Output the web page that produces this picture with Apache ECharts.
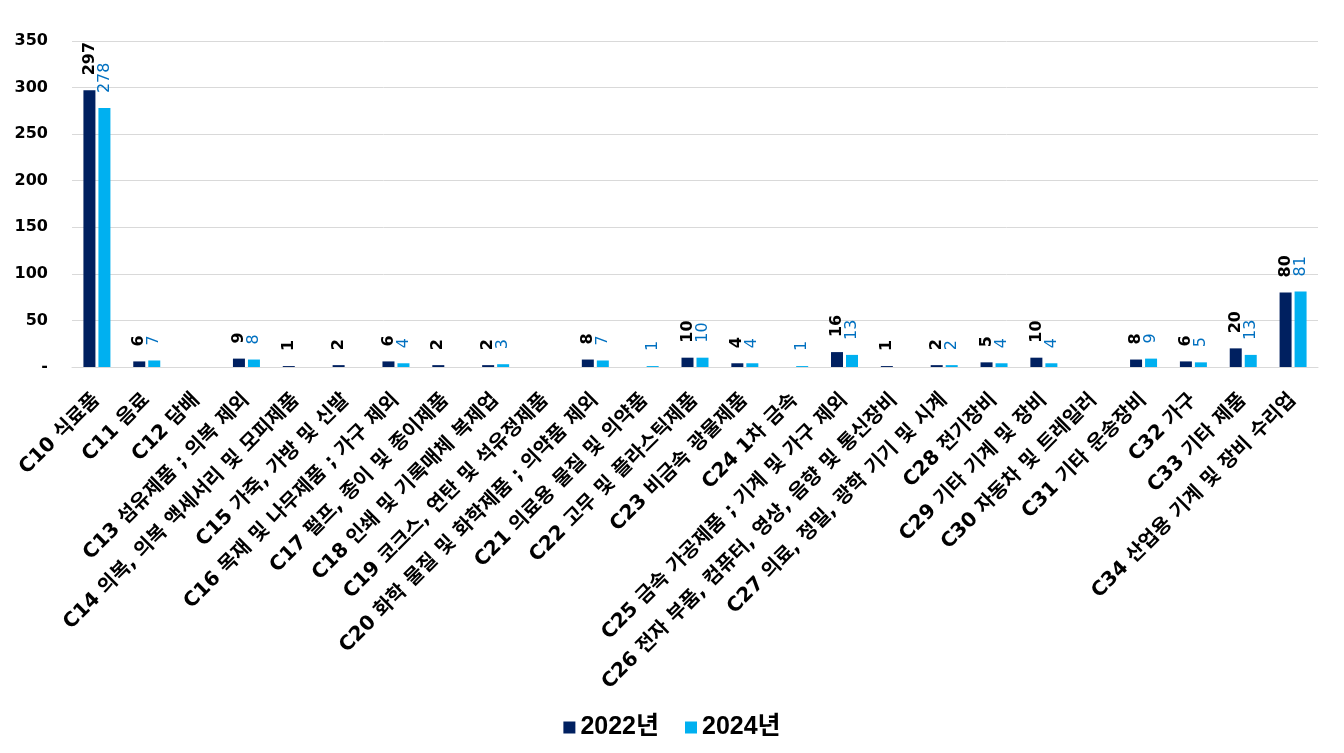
<!DOCTYPE html>
<html><head><meta charset="utf-8">
<script src="https://cdn.jsdelivr.net/npm/echarts@6/dist/echarts.min.js"></script>
<style>html,body{margin:0;padding:0;background:#fff}#c{width:1344px;height:753px}</style>
</head><body><div id="c"></div>
<script>
const categories = ["C10 식료품","C11 음료","C12 담배","C13 섬유제품 ; 의복 제외","C14 의복, 의복 액세서리 및 모피제품","C15 가죽, 가방 및 신발","C16 목재 및 나무제품 ; 가구 제외","C17 펄프, 종이 및 종이제품","C18 인쇄 및 기록매체 복제업","C19 코크스, 연탄 및 석유정제품","C20 화학 물질 및 화학제품 ; 의약품 제외","C21 의료용 물질 및 의약품","C22 고무 및 플라스틱제품","C23 비금속 광물제품","C24 1차 금속","C25 금속 가공제품 ; 기계 및 가구 제외","C26 전자 부품, 컴퓨터, 영상, 음향 및 통신장비","C27 의료, 정밀, 광학 기기 및 시계","C28 전기장비","C29 기타 기계 및 장비","C30 자동차 및 트레일러","C31 기타 운송장비","C32 가구","C33 기타 제품","C34 산업용 기계 및 장비 수리업"];
const values2022 = [297,6,null,9,1,2,6,2,2,null,8,null,10,4,null,16,1,2,5,10,null,8,6,20,80];
const values2024 = [278,7,null,8,null,null,4,null,3,null,7,1,10,4,1,13,null,2,4,4,null,9,5,13,81];
const seriesNames = ["2022년","2024년"];
const yTicks = {min:0, max:350, interval:50};

const wideFont = "'DejaVu Sans', 'Noto Sans CJK KR', sans-serif";
const legendFont = "'Liberation Sans', 'Noto Sans CJK KR', sans-serif";
const chart = echarts.init(document.getElementById('c'));
chart.setOption({
  animation:false,
  textStyle:{fontFamily:wideFont},
  grid:{left:72, right:26, top:41, bottom:386, containLabel:false},
  legend:{
    data:seriesNames, top:710, left:'center', itemWidth:12, itemHeight:12, itemGap:26,
    icon:'rect',
    textStyle:{fontSize:25, fontWeight:'bold', color:'#000', fontFamily:legendFont}
  },
  xAxis:{
    type:'category', data:categories,
    axisTick:{show:false},
    axisLine:{lineStyle:{color:'#d9d9d9', width:1}},
    axisLabel:{interval:0, rotate:45, fontSize:20, fontWeight:'bold', color:'#000', margin:30, fontFamily:wideFont}
  },
  yAxis:{
    type:'value', min:yTicks.min, max:yTicks.max, interval:yTicks.interval,
    axisLine:{show:false}, axisTick:{show:false},
    splitLine:{lineStyle:{color:'#d9d9d9'}},
    axisLabel:{fontSize:16, fontWeight:'bold', color:'#000', margin:24, fontFamily:wideFont,
      formatter:v=> v===0 ? '-' : String(v)}
  },
  series:[
    {name:seriesNames[0], type:'bar', data:values2022, barWidth:12, barGap:'25%',
     itemStyle:{color:'#002060'},
     label:{show:true, position:'top', rotate:90, align:'left', verticalAlign:'middle', distance:15,
       fontSize:16, fontWeight:'bold', color:'#000', fontFamily:wideFont}},
    {name:seriesNames[1], type:'bar', data:values2024, barWidth:12,
     itemStyle:{color:'#00B0F0'},
     label:{show:true, position:'top', rotate:90, align:'left', verticalAlign:'middle', distance:15,
       fontSize:16, fontWeight:'normal', color:'#0070C0', fontFamily:wideFont}}
  ]
});
</script></body></html>
